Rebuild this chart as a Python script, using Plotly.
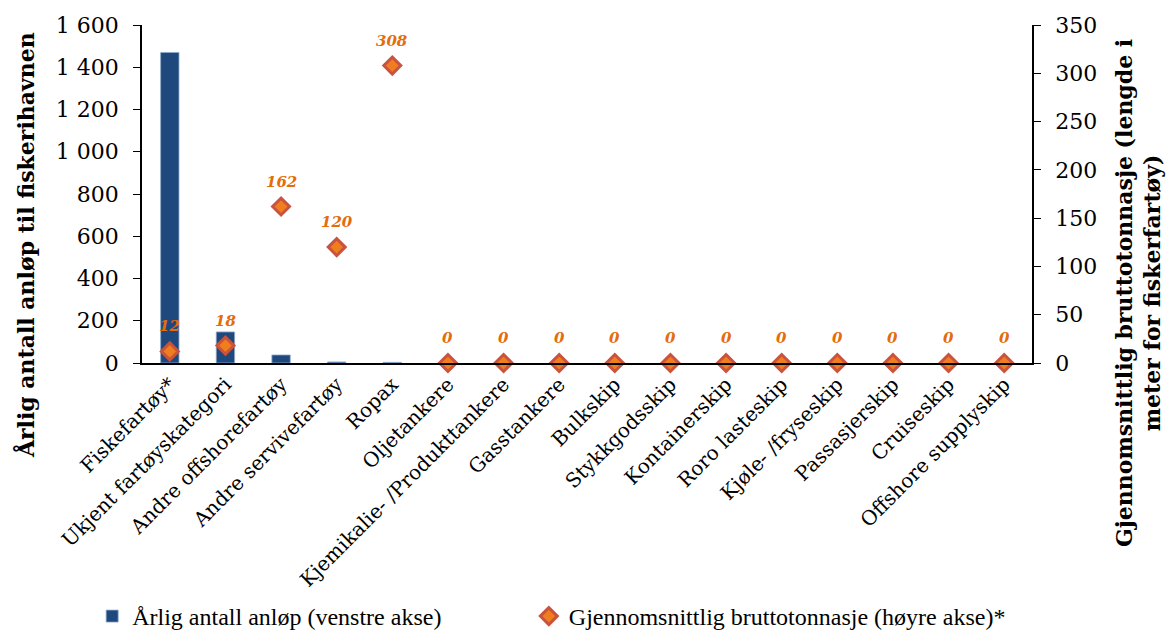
import plotly.graph_objects as go

categories = [
    "Fiskefartøy*", "Ukjent fartøyskategori", "Andre offshorefartøy",
    "Andre servivefartøy", "Ropax", "Oljetankere",
    "Kjemikalie- /Produkttankere", "Gasstankere", "Bulkskip",
    "Stykkgodsskip", "Kontainerskip", "Roro lasteskip",
    "Kjøle- /fryseskip", "Passasjerskip", "Cruiseskip",
    "Offshore supplyskip",
]
anlop = [1470, 147, 38, 5, 3, 0, 0, 0, 0, 0, 0, 0, 0, 0, 0, 0]
bruttotonnasje = [12, 18, 162, 120, 308, 0, 0, 0, 0, 0, 0, 0, 0, 0, 0, 0]
left_ticks = [0, 200, 400, 600, 800, 1000, 1200, 1400, 1600]
right_ticks = [0, 50, 100, 150, 200, 250, 300, 350]

SERIF = "DejaVu Serif"
LEGEND_FONT = "Liberation Serif"
BAR_COLOR = "#1F497D"
LABEL_COLOR = "#E46C0A"

fig = go.Figure()

fig.add_trace(go.Bar(
    x=categories, y=anlop,
    name="Årlig antall anløp (venstre akse)",
    marker=dict(color=BAR_COLOR, line=dict(color="#8EA9CC", width=0.8)),
    width=0.33,
    yaxis="y",
    legend="legend",
))

fig.add_trace(go.Scatter(
    x=categories, y=bruttotonnasje,
    name="Gjennomsnittlig bruttotonnasje (høyre akse)*",
    mode="markers",
    marker=dict(symbol="diamond", size=13, color="#F07E1E",
                line=dict(color="#C9533D", width=3)),
    yaxis="y2",
    cliponaxis=False,
    legend="legend2",
))

# value labels above each diamond
for cat, val in zip(categories, bruttotonnasje):
    fig.add_annotation(
        x=cat, y=val, yref="y2", text=f"<b><i>{val}</i></b>",
        showarrow=False, yshift=25,
        font=dict(family=SERIF, size=15, color=LABEL_COLOR),
    )

# axis titles
fig.add_annotation(
    xref="paper", yref="paper", x=-0.131, y=0.35,
    xanchor="center", yanchor="middle",
    text="<b>Årlig antall anløp til fiskerihavnen</b>",
    textangle=-90, showarrow=False,
    font=dict(family=SERIF, size=22, color="black"),
)
fig.add_annotation(
    xref="paper", yref="paper", x=1.119, y=0.207,
    xanchor="center", yanchor="middle",
    text="<b>Gjennomsnittlig bruttotonnasje (lengde i<br>meter for fiskerfartøy)</b>",
    textangle=-90, showarrow=False,
    font=dict(family=SERIF, size=22, color="black"),
)

legend_common = dict(
    orientation="h", xanchor="left", y=-0.75, yanchor="middle",
    font=dict(family=LEGEND_FONT, size=24, color="black"),
    bgcolor="rgba(0,0,0,0)",
)

fig.update_layout(
    width=1169, height=634,
    margin=dict(l=142, r=137, t=25, b=271, autoexpand=False),
    paper_bgcolor="white", plot_bgcolor="white",
    separators=", ",
    font=dict(family=SERIF, color="black"),
    showlegend=True,
    legend=dict(x=-0.056, **legend_common),
    legend2=dict(x=0.4346, **legend_common),
    xaxis=dict(
        type="category", tickangle=-45, automargin=False,
        tickfont=dict(family=SERIF, size=20, color="black"),
        showline=True, linecolor="black", linewidth=1.5,
        ticks="", showgrid=False,
        range=[-0.5, len(categories) - 0.5],
    ),
    yaxis=dict(
        range=[0, 1600], tickvals=left_ticks, separatethousands=True,
        automargin=False, ticklabelstandoff=10,
        tickfont=dict(family=SERIF, size=22, color="black"),
        showline=True, linecolor="black", linewidth=1.5,
        ticks="outside", ticklen=7, tickcolor="black",
        showgrid=False, zeroline=False,
    ),
    yaxis2=dict(
        range=[0, 350], tickvals=right_ticks, overlaying="y", side="right",
        automargin=False, ticklabelstandoff=10,
        tickfont=dict(family=SERIF, size=22, color="black"),
        showline=True, linecolor="black", linewidth=1.5,
        ticks="outside", ticklen=7, tickcolor="black",
        showgrid=False, zeroline=False,
    ),
)

fig.write_html("out.html")
